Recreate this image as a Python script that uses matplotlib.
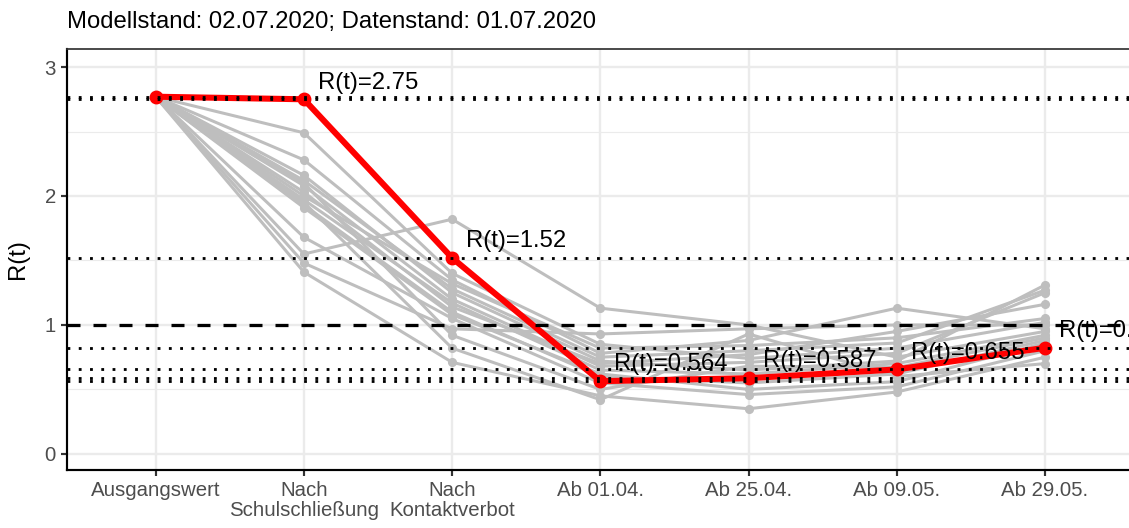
import matplotlib
matplotlib.use("Agg")
import matplotlib.pyplot as plt
import numpy as np

plt.rcParams['font.family'] = ['Liberation Sans', 'DejaVu Sans']

# ---- data ----
categories = ["Ausgangswert", "Nach\nSchulschließung", "Nach\nKontaktverbot",
              "Ab 01.04.", "Ab 25.04.", "Ab 09.05.", "Ab 29.05."]

germany_r = [2.77, 2.75, 1.52, 0.564, 0.587, 0.655, 0.823]

state_1 = [2.77, 2.49, 1.40, 0.85, 0.74, 0.82, 1.02]
state_2 = [2.77, 2.28, 1.35, 0.78, 0.88, 1.13, 0.97]
state_3 = [2.77, 2.16, 1.25, 0.72, 0.65, 0.72, 1.31]
state_4 = [2.77, 2.12, 1.28, 0.75, 0.80, 0.86, 1.27]
state_5 = [2.77, 2.08, 1.20, 0.68, 0.71, 0.78, 1.25]
state_6 = [2.77, 2.03, 1.14, 0.70, 0.77, 0.95, 1.16]
state_7 = [2.77, 2.00, 1.32, 0.82, 0.84, 0.90, 1.05]
state_8 = [2.77, 1.97, 1.17, 0.65, 0.62, 0.70, 0.92]
state_9 = [2.77, 1.93, 1.10, 0.60, 0.55, 0.62, 0.88]
state_10 = [2.77, 1.91, 1.08, 0.62, 0.50, 0.56, 0.86]
state_11 = [2.77, 1.68, 1.05, 0.55, 0.46, 0.52, 0.80]
state_12 = [2.77, 1.55, 1.82, 1.13, 1.00, 0.75, 0.95]
state_13 = [2.77, 1.48, 0.97, 0.93, 0.97, 1.00, 1.00]
state_14 = [2.77, 1.41, 0.71, 0.45, 0.35, 0.48, 0.75]
state_15 = [2.77, 2.10, 0.92, 0.50, 0.68, 0.67, 0.90]
state_16 = [2.77, 1.95, 0.82, 0.42, 0.93, 0.60, 0.70]
states = [state_1, state_2, state_3, state_4, state_5, state_6, state_7, state_8,
          state_9, state_10, state_11, state_12, state_13, state_14, state_15, state_16]

title = "Modellstand: 02.07.2020; Datenstand: 01.07.2020"
y_ticks = [0, 1, 2, 3]

# ---- figure ----
DPI = 156
fig = plt.figure(figsize=(1129 / DPI, 528 / DPI), dpi=DPI)
ax = fig.add_axes([66.7 / 1129, 1 - 470 / 528, (1134 - 66.7) / 1129, (470 - 49) / 528])

x = np.arange(1, len(categories) + 1)

# grid
for v in [0.5, 1.5, 2.5]:
    ax.axhline(v, color="#EBEBEB", lw=0.55, zorder=0)
for v in y_ticks:
    ax.axhline(v, color="#EBEBEB", lw=1.1, zorder=0)
for xi in x:
    ax.axvline(xi, color="#EBEBEB", lw=1.1, zorder=0)

grey = "#BEBEBE"
for s in states:
    ax.plot(x, s, color=grey, lw=1.4, marker="o", ms=3.2, mec=grey, mfc=grey, zorder=2)

ax.plot(x, germany_r, color="#FF0000", lw=2.8, marker="o", ms=5.4,
        mec="#FF0000", mfc="#FF0000", zorder=3)

# reference lines
for v in germany_r:
    ax.axhline(v, color="black", lw=1.3, linestyle=(0, (1, 3)), zorder=4)
ax.axhline(1, color="black", lw=1.5, linestyle=(0, (4, 4)), zorder=4)

# labels
for xi, v in zip(x[1:], germany_r[1:]):
    ax.text(xi + 0.095, v + 0.13, f"R(t)={v:.3g}", fontsize=11, ha="left",
            va="center", color="black", zorder=5)

ax.set_xlim(0.4, 7.6)
ax.set_ylim(-0.125, 3.14)
ax.set_xticks(x)
ax.set_xticklabels(categories, fontsize=9.4, color="#4D4D4D", linespacing=1.1)
ax.set_yticks(y_ticks)
ax.set_yticklabels([str(t) for t in y_ticks], fontsize=9.4, color="#4D4D4D")
ax.tick_params(axis="both", length=2.75, width=1.0, color="#333333", pad=2.2)
ax.set_ylabel("R(t)", fontsize=11, color="black", labelpad=7)

for side in ["top", "right"]:
    ax.spines[side].set_color("#333333")
    ax.spines[side].set_linewidth(0.8)
for side in ["left", "bottom"]:
    ax.spines[side].set_color("black")
    ax.spines[side].set_linewidth(1.0)

fig.text(66.7 / 1129, 1 - 22 / 528, title, fontsize=11, ha="left", va="center", color="black")

fig.savefig("out.png", dpi=DPI)
